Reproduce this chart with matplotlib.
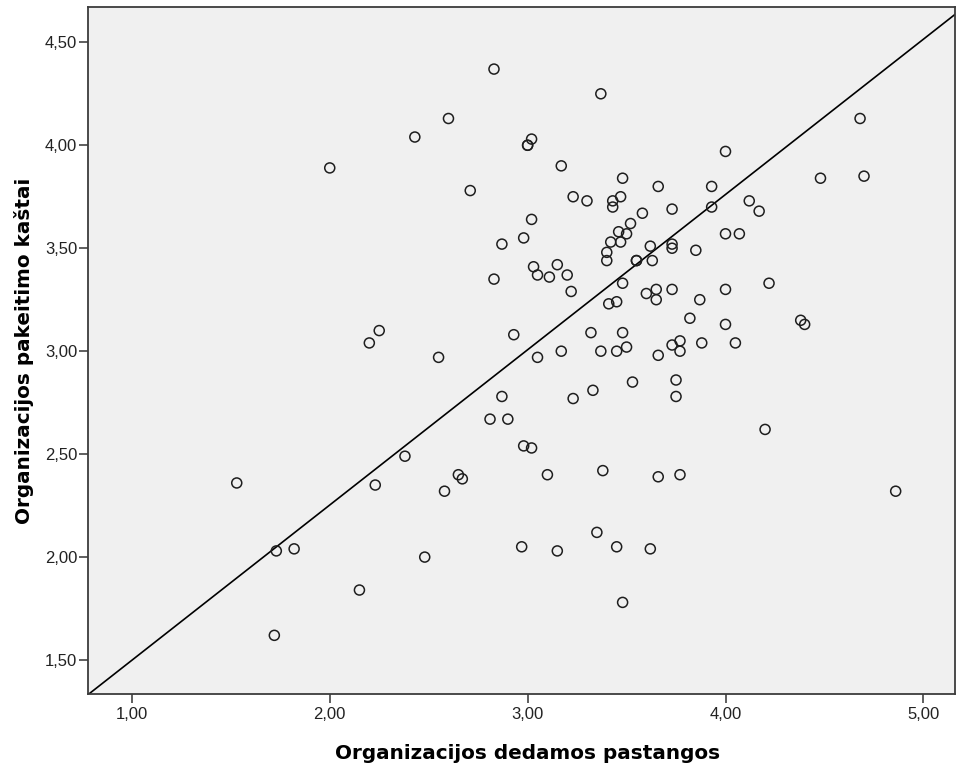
import numpy as np
import matplotlib
matplotlib.use("Agg")
import matplotlib.pyplot as plt

# --- DUOMENYS (nuskaityti nuo paveikslo) ---
pastangos = [2.00, 2.43, 2.60, 2.71, 2.20, 2.25, 2.55, 2.83, 3.37, 3.02,
             3.00, 3.00, 4.00, 4.68, 3.17, 3.48, 4.48, 4.70, 3.66, 3.93,
             3.23, 3.30, 3.43, 3.47, 3.43, 3.02, 3.58, 3.73, 3.93, 4.12,
             4.17, 2.98, 2.87, 3.52, 3.46, 3.50, 3.42, 3.47, 3.40, 3.40,
             3.55, 3.55, 3.63, 3.62, 3.73, 3.73, 3.85, 4.00, 4.07, 2.83,
             3.03, 3.05, 3.11, 3.15, 3.20, 3.22, 3.48, 3.60, 3.65, 3.65,
             3.73, 3.87, 4.00, 4.22, 3.41, 3.45, 3.82, 4.00, 4.38, 4.40,
             2.93, 3.32, 3.48, 3.05, 3.17, 3.37, 3.45, 3.50, 3.66, 3.73,
             3.77, 3.77, 3.88, 4.05, 3.53, 3.75, 3.75, 2.87, 3.33, 3.23,
             2.81, 2.90, 2.98, 3.02, 4.20, 3.10, 3.38, 3.66, 3.77, 4.86,
             3.35, 2.97, 3.15, 3.45, 3.62, 3.48, 1.53, 2.38, 2.23, 2.65,
             2.67, 2.58, 1.73, 1.82, 2.48, 2.15, 1.72]
kastai = [3.89, 4.04, 4.13, 3.78, 3.04, 3.10, 2.97, 4.37, 4.25, 4.03,
          4.00, 4.00, 3.97, 4.13, 3.90, 3.84, 3.84, 3.85, 3.80, 3.80,
          3.75, 3.73, 3.73, 3.75, 3.70, 3.64, 3.67, 3.69, 3.70, 3.73,
          3.68, 3.55, 3.52, 3.62, 3.58, 3.57, 3.53, 3.53, 3.48, 3.44,
          3.44, 3.44, 3.44, 3.51, 3.52, 3.50, 3.49, 3.57, 3.57, 3.35,
          3.41, 3.37, 3.36, 3.42, 3.37, 3.29, 3.33, 3.28, 3.30, 3.25,
          3.30, 3.25, 3.30, 3.33, 3.23, 3.24, 3.16, 3.13, 3.15, 3.13,
          3.08, 3.09, 3.09, 2.97, 3.00, 3.00, 3.00, 3.02, 2.98, 3.03,
          3.05, 3.00, 3.04, 3.04, 2.85, 2.86, 2.78, 2.78, 2.81, 2.77,
          2.67, 2.67, 2.54, 2.53, 2.62, 2.40, 2.42, 2.39, 2.40, 2.32,
          2.12, 2.05, 2.03, 2.05, 2.04, 1.78, 2.36, 2.49, 2.35, 2.40,
          2.38, 2.32, 2.03, 2.04, 2.00, 1.84, 1.62]

# regresijos tiese (nuskaityta nuo paveikslo)
tiese_a = 0.745   # laisvasis narys
tiese_b = 0.754   # krypties koeficientas

x_ticks = [1, 2, 3, 4, 5]
x_tick_labels = ["1,00", "2,00", "3,00", "4,00", "5,00"]
y_ticks = [1.5, 2.0, 2.5, 3.0, 3.5, 4.0, 4.5]
y_tick_labels = ["1,50", "2,00", "2,50", "3,00", "3,50", "4,00", "4,50"]

# --- GRAFIKAS ---
fig = plt.figure(figsize=(9.56, 7.69), dpi=100)
ax = fig.add_axes([0.0924, 0.0975, 0.9066, 0.893])
ax.set_facecolor("#f0f0f0")

ax.scatter(pastangos, kastai, s=52, facecolors="none", edgecolors="#1e1e1e",
           linewidths=1.1, zorder=3)
ax.axline((0, tiese_a), slope=tiese_b, color="black", linewidth=1.2, zorder=2)

ax.set_xlim(0.78, 5.16)
ax.set_ylim(1.335, 4.67)

ax.set_xticks(x_ticks)
ax.set_xticklabels(x_tick_labels, fontfamily="Liberation Sans", fontsize=12, color="#222222")
ax.set_yticks(y_ticks)
ax.set_yticklabels(y_tick_labels, fontfamily="Liberation Sans", fontsize=12, color="#222222")
ax.tick_params(axis="both", direction="out", length=6.5, width=1.1, color="#333333")
ax.tick_params(axis="x", pad=3)
ax.tick_params(axis="y", pad=1.5)
ax.tick_params(top=False, right=False)

for lado in ax.spines.values():
    lado.set_color("#3c3c3c")
    lado.set_linewidth(1.3)

ax.set_xlabel("Organizacijos dedamos pastangos", fontsize=14.4, fontweight="bold",
              fontfamily="DejaVu Sans")
ax.set_ylabel("Organizacijos pakeitimo kaštai", fontsize=14.4, fontweight="bold",
              fontfamily="DejaVu Sans")
ax.xaxis.set_label_coords(0.507, -0.0728)
ax.yaxis.set_label_coords(-0.0625, 0.5)

fig.savefig("out.png", dpi=100)
plt.close(fig)
